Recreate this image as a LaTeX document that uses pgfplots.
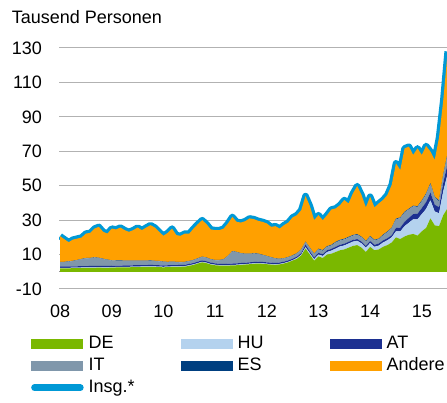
\documentclass[border=0pt]{standalone}
\usepackage{fontspec}
\setmainfont{Liberation Sans}
\usepackage{pgfplots}
\usepackage{pgfplotstable}
\pgfplotsset{compat=1.18}
\definecolor{cDE}{RGB}{122,184,0}
\definecolor{cHU}{RGB}{180,210,238}
\definecolor{cAT}{RGB}{28,48,145}
\definecolor{cIT}{RGB}{128,151,171}
\definecolor{cES}{RGB}{0,63,128}
\definecolor{cAN}{RGB}{255,160,0}
\definecolor{cTOT}{RGB}{0,153,214}
\pgfplotstableread{
m DE HU AT IT ES AN TOT
0 2.0 0.3 0.8 2.5 0.2 14.9 20.7
1 2.0 0.3 0.8 2.5 0.2 13.1 18.9
2 2.0 0.3 0.8 2.8 0.2 11.1 17.2
3 2.1 0.3 0.8 3.0 0.2 12.3 18.7
4 2.1 0.3 0.8 3.5 0.2 12.4 19.3
5 2.2 0.3 0.8 4.0 0.2 12.4 19.9
6 2.2 0.3 0.8 4.5 0.2 14.2 22.2
7 2.3 0.3 0.8 4.5 0.2 14.5 22.6
8 2.3 0.3 0.8 4.8 0.2 16.7 25.1
9 2.4 0.3 0.8 4.5 0.2 17.9 26.1
10 2.3 0.3 0.8 4.0 0.2 15.6 23.2
11 2.3 0.3 0.8 3.5 0.2 15.1 22.2
12 2.4 0.3 0.8 3.0 0.2 18.4 25.1
13 2.5 0.3 0.8 2.8 0.2 18.0 24.6
14 2.5 0.3 0.8 2.8 0.2 19.1 25.7
15 2.6 0.3 0.8 2.6 0.2 17.7 24.2
16 2.6 0.3 0.8 2.6 0.2 16.7 23.2
17 2.7 0.3 0.8 2.5 0.2 17.7 24.2
18 2.7 0.3 0.8 2.5 0.2 19.2 25.7
19 2.8 0.3 0.8 2.4 0.2 17.7 24.2
20 2.8 0.3 0.8 2.4 0.2 19.2 25.7
21 2.9 0.3 0.8 2.4 0.2 20.5 27.1
22 2.8 0.3 0.8 2.3 0.2 19.3 25.7
23 2.7 0.3 0.8 2.3 0.2 16.9 23.2
24 2.6 0.3 0.8 2.0 0.2 15.0 20.9
25 2.7 0.3 0.8 1.8 0.2 16.8 22.6
26 2.8 0.3 0.8 1.8 0.2 19.2 25.1
27 2.8 0.3 0.8 1.7 0.2 15.5 21.3
28 2.9 0.3 0.8 1.5 0.2 15.2 20.9
29 3.0 0.3 0.8 1.5 0.2 16.4 22.2
30 3.5 0.3 0.8 1.5 0.2 15.9 22.2
31 4.0 0.3 0.8 1.6 0.2 18.2 25.1
32 4.8 0.3 0.8 1.8 0.2 19.8 27.7
33 5.5 0.3 0.8 2.0 0.2 21.2 30.0
34 5.0 0.3 0.8 2.0 0.2 19.4 27.7
35 4.2 0.3 0.8 1.8 0.2 17.3 24.6
36 3.8 0.3 0.8 1.8 0.2 17.3 24.2
37 3.6 0.3 0.8 2.0 0.2 17.3 24.2
38 3.5 0.3 0.8 2.5 0.2 17.8 25.1
39 3.6 0.3 0.8 4.5 0.2 18.7 28.1
40 3.7 0.3 0.8 7.0 0.2 19.9 31.9
41 3.8 0.3 0.8 6.5 0.2 17.4 29.0
42 4.0 0.3 0.8 5.5 0.2 17.8 28.6
43 4.2 0.3 0.8 5.0 0.2 18.9 29.4
44 4.4 0.3 0.8 4.8 0.2 20.5 31.0
45 4.6 0.3 0.8 4.8 0.2 19.9 30.6
46 4.8 0.3 0.8 4.5 0.2 19.0 29.6
47 4.6 0.3 0.8 4.0 0.2 19.1 29.0
48 4.4 0.3 0.8 3.5 0.2 18.9 28.1
49 4.2 0.3 0.8 3.0 0.2 17.6 26.1
50 4.0 0.3 0.8 2.5 0.2 18.7 26.5
51 4.3 0.3 0.8 2.0 0.2 17.5 25.1
52 4.8 0.3 0.8 1.8 0.2 19.2 27.1
53 5.5 0.3 0.8 1.8 0.2 20.0 28.6
54 6.5 0.3 0.8 1.8 0.2 22.0 31.6
55 7.5 0.5 0.8 1.8 0.2 22.1 32.9
56 9.5 0.5 0.8 2.0 0.2 22.8 35.8
57 13.5 0.8 1.5 1.5 0.2 26.5 44.0
58 10.0 0.8 1.0 2.0 0.2 24.2 38.2
59 6.5 0.8 1.0 2.0 0.2 19.5 30.0
60 9.0 1.0 1.0 2.0 0.4 19.5 32.9
61 8.0 1.2 1.0 2.0 0.4 17.4 30.0
62 10.0 1.5 1.0 2.0 0.4 18.0 32.9
63 10.5 1.8 1.0 2.0 0.4 20.5 36.2
64 11.5 2.0 1.0 2.5 0.4 19.4 36.8
65 12.5 2.2 1.0 2.5 0.4 20.1 38.7
66 13.0 2.3 1.0 2.5 0.4 22.5 41.7
67 14.0 2.4 1.0 2.5 0.4 19.4 39.7
68 15.0 2.5 1.0 2.5 0.4 24.1 45.5
69 15.5 2.5 1.0 2.5 0.4 27.9 49.8
70 14.0 2.5 1.0 2.5 0.4 24.2 44.6
71 11.5 2.5 1.0 2.5 0.4 19.5 37.4
72 14.5 2.2 1.2 2.5 0.4 22.8 43.6
73 12.5 2.0 1.2 2.5 0.4 18.8 37.4
74 13.0 2.2 1.2 2.5 0.4 20.4 39.7
75 14.5 2.5 1.2 3.0 0.4 20.1 41.7
76 15.5 2.8 1.2 3.5 0.4 21.2 44.6
77 17.0 3.0 1.2 4.0 0.4 24.8 50.4
78 20.0 3.5 2.0 5.0 0.4 32.1 63.0
79 19.0 4.5 2.2 5.5 0.4 27.5 59.1
80 20.5 6.0 2.5 5.5 0.4 36.8 71.7
81 21.5 7.0 2.8 5.0 0.4 36.0 72.7
82 22.0 8.5 3.0 4.5 0.4 29.5 67.9
83 21.0 9.5 3.2 4.0 0.4 33.6 71.7
84 23.5 10.0 3.5 4.0 0.5 26.4 67.9
85 25.5 11.0 4.0 4.5 0.5 27.6 73.1
86 31.0 10.5 4.5 5.0 0.5 18.3 69.8
87 27.0 8.0 4.0 4.0 0.5 21.5 65.0
88 26.5 7.5 3.5 3.5 0.5 36.5 78.0
89 33.0 14.0 5.0 4.0 0.8 43.2 100.0
90 37.0 20.0 6.0 5.0 1.0 59.0 128.0
}\data
\pgfplotsset{
  myarea/.style={draw=none, fill=#1,
    legend image code/.code={\fill[fill=#1] (0bp,-5bp) rectangle (52bp,5bp);}},
}
\begin{document}
\begin{tikzpicture}
\useasboundingbox (0,0) rectangle (447bp,403bp);
\node[anchor=base west, inner sep=0pt, font=\fontsize{18bp}{21bp}\selectfont] at (11.7bp,379bp) {Tausend Personen};
\begin{axis}[
  at={(59bp,114bp)}, anchor=south west,
  scale only axis, width=388bp, height=241bp,
  xmin=-0.25, xmax=89.85, ymin=-10, ymax=130,
  stack plots=y,
  axis line style={draw=none},
  major tick length=0pt,
  xtick={0,12,...,84}, xticklabels={08,09,10,11,12,13,14,15},
  ytick={-10,10,...,130}, yticklabels={-10,10,30,50,70,90,110,130},
  ymajorgrids, grid style={gray!60, line width=1bp},
  extra y ticks={0}, extra y tick labels={},
  extra y tick style={grid style={gray!85, line width=1bp}},
  tick label style={font=\fontsize{18bp}{21bp}\selectfont, inner sep=0pt},
  yticklabel style={xshift=-17bp},
  xticklabel style={yshift=-16bp},
  clip mode=individual,
  legend columns=3,
  legend style={draw=none, fill=none, at={(-0.0722,-0.191)}, anchor=north west,
    font=\fontsize{18bp}{21bp}\selectfont, inner sep=0pt, row sep=5bp,
    nodes={inner sep=0pt, text height=13bp, text depth=4bp},
    /tikz/every odd column/.append style={column sep=5bp}},
]
\addplot[myarea=cDE] table[x=m, y=DE] {\data} \closedcycle;
\addlegendentry{\makebox[92bp][l]{DE}}
\addplot[myarea=cHU] table[x=m, y=HU] {\data} \closedcycle;
\addlegendentry{\makebox[92bp][l]{HU}}
\addplot[myarea=cAT] table[x=m, y=AT] {\data} \closedcycle;
\addlegendentry{\makebox[92bp][l]{AT}}
\addplot[myarea=cIT] table[x=m, y=IT] {\data} \closedcycle;
\addlegendentry{\makebox[92bp][l]{IT}}
\addplot[myarea=cES] table[x=m, y=ES] {\data} \closedcycle;
\addlegendentry{\makebox[92bp][l]{ES}}
\addplot[myarea=cAN] table[x=m, y=AN] {\data} \closedcycle;
\addlegendentry{\makebox[92bp][l]{Andere}}
\addplot[stack plots=false, color=cTOT, line width=6.5bp, line join=round,
  legend image code/.code={\draw[cTOT, line width=6.5bp, line cap=round] (3bp,0bp) -- (49bp,0bp);}]
  table[x=m, y=TOT] {\data};
\addlegendentry{\makebox[92bp][l]{Insg.*}}
\end{axis}
\end{tikzpicture}
\end{document}
